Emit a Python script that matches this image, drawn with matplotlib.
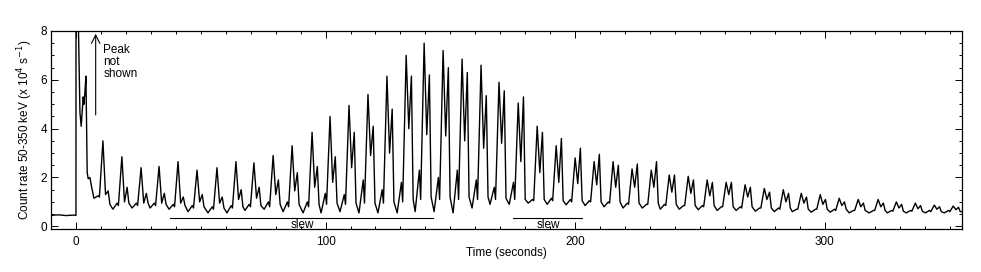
import numpy as np
import matplotlib
matplotlib.use("Agg")
import matplotlib.pyplot as plt
from matplotlib.ticker import MultipleLocator

plt.rcParams['font.family'] = ['Liberation Sans', 'DejaVu Sans']

# start of the flare (seconds, count rate in 10^4 /s)
flare_t = [-10.0, -7.0, -4.0, -1.0, -0.05, 0.0, 0.05, 0.85, 1.6, 2.1, 2.9, 3.2, 3.6, 4.0, 4.5, 4.9, 5.6, 6.2]
flare_r = [0.45, 0.47, 0.44, 0.46, 0.45, 0.45, 20.0, 9.0, 4.65, 4.1, 5.3, 5.0, 5.5, 6.15, 2.2, 1.95, 2.0, 1.65]

# pulse peak times and the levels read around each pulse
pulse_t = [10.8, 18.4, 26.1, 33.3, 40.9, 48.5, 56.5, 64.1, 71.3, 79.0, 86.6, 94.6,
           101.8, 109.4, 117.0, 124.6, 132.3, 139.5, 147.1, 154.7, 162.3, 169.5, 177.2, 184.8,
           192.4, 200.0, 207.6, 215.2, 222.8, 230.5, 237.7, 245.3, 252.9, 260.5, 268.1, 275.8,
           283.4, 290.6, 298.2, 305.8, 313.4, 321.4, 328.7, 336.3, 343.9, 351.5]
trough = [1.15, 0.7, 0.75, 0.75, 0.7, 0.6, 0.55, 0.55, 0.65, 0.7, 0.6, 0.55,
          0.55, 0.6, 0.55, 0.55, 0.55, 0.6, 0.6, 0.55, 0.75, 0.9, 0.9, 0.95,
          0.9, 0.88, 0.85, 0.8, 0.75, 0.75, 0.7, 0.7, 0.68, 0.65, 0.65, 0.62,
          0.6, 0.6, 0.58, 0.58, 0.55, 0.55, 0.55, 0.55, 0.55, 0.55]
bump = [1.25, 0.95, 0.95, 0.95, 0.9, 0.85, 0.8, 0.85, 0.9, 1.0, 1.0, 1.0,
        1.35, 1.3, 1.9, 1.5, 1.8, 2.3, 2.0, 2.3, 1.9, 1.6, 1.8, 1.1,
        1.15, 1.1, 1.05, 1.0, 0.95, 0.9, 0.9, 0.85, 0.85, 0.8, 0.8, 0.75,
        0.75, 0.7, 0.7, 0.7, 0.65, 0.65, 0.65, 0.65, 0.65, 0.65]
rise_from = [1.2, 0.85, 0.85, 0.85, 0.8, 0.75, 0.7, 0.75, 0.8, 0.8, 0.8, 0.8,
             0.9, 0.9, 0.95, 0.95, 1.0, 1.1, 1.1, 1.1, 1.1, 1.1, 1.1, 1.05,
             1.05, 1.0, 1.0, 0.95, 0.9, 0.9, 0.85, 0.85, 0.8, 0.8, 0.75, 0.75,
             0.7, 0.7, 0.7, 0.65, 0.65, 0.65, 0.62, 0.62, 0.6, 0.6]
peak = [3.5, 2.85, 2.4, 2.45, 2.65, 2.3, 2.4, 2.65, 2.6, 2.9, 3.3, 3.85,
        4.5, 4.95, 5.4, 6.15, 7.0, 7.5, 7.2, 6.85, 6.6, 5.9, 5.05, 4.1,
        3.3, 2.8, 2.65, 2.65, 2.35, 2.3, 2.1, 2.05, 1.9, 1.8, 1.7, 1.55,
        1.5, 1.35, 1.3, 1.15, 1.1, 1.1, 1.0, 0.95, 0.87, 0.83]
notch = [1.3, 1.0, 0.95, 0.95, 0.95, 1.0, 0.95, 1.1, 1.15, 1.3, 1.45, 1.6,
         1.8, 2.4, 2.9, 3.0, 4.0, 3.75, 3.7, 3.5, 3.2, 3.4, 2.65, 2.2,
         1.8, 1.75, 1.7, 1.6, 1.6, 1.6, 1.4, 1.35, 1.25, 1.3, 1.2, 1.1,
         1.0, 0.95, 0.9, 0.85, 0.8, 0.8, 0.75, 0.72, 0.7, 0.68]
second = [1.45, 1.6, 1.35, 1.35, 1.2, 1.3, 1.2, 1.5, 1.6, 1.9, 2.2, 2.45,
          2.85, 3.85, 4.1, 4.8, 6.15, 6.2, 6.5, 6.3, 5.35, 5.55, 5.3, 3.85,
          3.6, 3.2, 2.95, 2.5, 2.55, 2.65, 2.1, 1.9, 1.8, 1.8, 1.6, 1.4,
          1.35, 1.2, 1.1, 1.0, 0.95, 0.95, 0.9, 0.85, 0.8, 0.78]
tail = [0.9, 0.95, 0.95, 0.9, 0.85, 0.8, 0.75, 0.8, 0.85, 0.9, 0.9, 0.9,
        0.95, 0.95, 0.95, 1.0, 1.1, 1.2, 1.2, 1.2, 1.2, 1.15, 1.1, 1.1,
        1.05, 1.05, 1.0, 1.0, 0.95, 0.95, 0.9, 0.85, 0.85, 0.8, 0.8, 0.75,
        0.75, 0.7, 0.7, 0.7, 0.65, 0.65, 0.62, 0.62, 0.6, 0.6]
# where each level sits relative to its pulse peak (s)
phase = [-3.6, -1.9, -1.4, 0.0, 1.05, 2.1, 2.8]
end_t, end_r = 355.0, 0.6

slew_spans = [(37.7, 143.1), (175.0, 202.7)]

t = list(flare_t)
r = list(flare_r)
for i, tp in enumerate(pulse_t):
    levels = [trough[i], bump[i], rise_from[i], peak[i], notch[i], second[i], tail[i]]
    for off, val in zip(phase, levels):
        t.append(tp + off)
        r.append(val)
t.append(end_t)
r.append(end_r)

fig = plt.figure(figsize=(9.81, 2.72), dpi=100)
ax = fig.add_axes([51/981, 1-229/272, 911/981, 198/272])

ax.plot(t, r, color='black', lw=1.0)

ax.set_xlim(-10, 355)
ax.set_ylim(-0.11, 8)
ax.xaxis.set_major_locator(MultipleLocator(100))
ax.xaxis.set_minor_locator(MultipleLocator(10))
ax.yaxis.set_major_locator(MultipleLocator(2))
ax.yaxis.set_minor_locator(MultipleLocator(0.5))
ax.tick_params(which='both', direction='in', top=True, right=True, labelsize=8.5, width=0.7)
ax.tick_params(which='major', length=5)
ax.tick_params(which='minor', length=2.5)
ax.tick_params(axis='x', pad=5)
ax.tick_params(axis='y', pad=3)
for s in ax.spines.values():
    s.set_linewidth(0.9)

# slew markers
for a, b in slew_spans:
    ax.plot([a, b], [0.34, 0.34], color='black', lw=0.8)
    ax.text((a + b) / 2 + 0.5, -0.05, 'slew', ha='center', va='baseline', fontsize=8.5)

# arrow for the saturated peak
ax.annotate('', xy=(7.9, 8.0), xytext=(7.9, 4.45),
            arrowprops=dict(arrowstyle='->,head_length=0.6,head_width=0.3', lw=0.8, color='black'),
            annotation_clip=False)
ax.text(10.9, 7.45, 'Peak\nnot\nshown', ha='left', va='top', fontsize=8.5, linespacing=1.0)

fig.text(25/981, 1-130/272, 'Count rate 50-350 keV (x 10$^4$ s$^{-1}$)', rotation=90,
         ha='center', va='center', fontsize=8.5)
fig.text(506.5/981, 1-253/272, 'Time (seconds)', ha='center', va='center', fontsize=8.5)

fig.savefig('out.png', dpi=100)
